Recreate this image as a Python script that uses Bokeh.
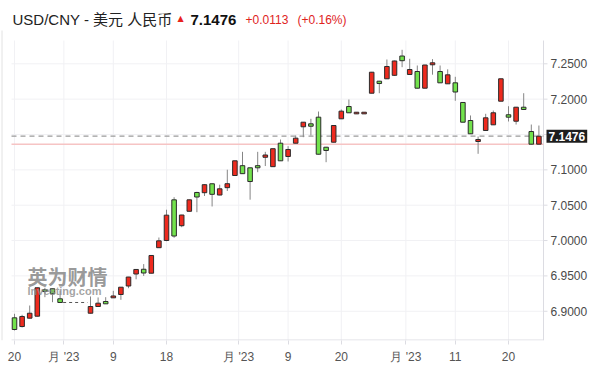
import numpy as np
from bokeh.plotting import figure
from bokeh.models import Range1d, FixedTicker, Label, ColumnDataSource
from bokeh.core.properties import value
from bokeh.embed import file_html
from bokeh.resources import INLINE

# ---------------- data ----------------
pair_name = "USD/CNY - 美元 人民币"
last_price = 7.1476
change = 0.0113
change_pct = 0.16

dates = ["2023-04-20", "2023-04-21", "2023-04-24", "2023-04-25", "2023-04-26", "2023-04-27", "2023-04-28",
         "2023-05-04", "2023-05-05", "2023-05-08", "2023-05-09", "2023-05-10", "2023-05-11", "2023-05-12",
         "2023-05-15", "2023-05-16", "2023-05-17", "2023-05-18", "2023-05-19",
         "2023-05-22", "2023-05-23", "2023-05-24", "2023-05-25", "2023-05-26",
         "2023-05-29", "2023-05-30", "2023-05-31", "2023-06-01", "2023-06-02",
         "2023-06-05", "2023-06-06", "2023-06-07", "2023-06-08", "2023-06-09",
         "2023-06-12", "2023-06-13", "2023-06-14", "2023-06-15", "2023-06-16",
         "2023-06-19", "2023-06-20", "2023-06-21", "2023-06-22", "2023-06-23",
         "2023-06-26", "2023-06-27", "2023-06-28", "2023-06-29", "2023-06-30",
         "2023-07-03", "2023-07-04", "2023-07-05", "2023-07-06", "2023-07-07",
         "2023-07-10", "2023-07-11", "2023-07-12", "2023-07-13", "2023-07-14",
         "2023-07-17", "2023-07-18", "2023-07-19", "2023-07-20", "2023-07-21",
         "2023-07-24", "2023-07-25", "2023-07-26"]

opens = [6.8907, 6.8784, 6.8902, 6.8930, 6.9303, 6.9318, 6.9176,
         6.8972, 6.9067, 6.9138, 6.9190, 6.9237, 6.9357, 6.9527,
         6.9594, 6.9538, 6.9899, 7.0001, 7.0576,
         7.0210, 7.0414, 7.0680, 7.0677, 7.0803,
         7.0644, 7.0748, 7.0920, 7.1059, 7.1029,
         7.1059, 7.1178, 7.1045, 7.1377, 7.1189,
         7.1377, 7.1609, 7.1651, 7.1745, 7.1320,
         7.1391, 7.1722, 7.1896, 7.1792, 7.1792,
         7.2084, 7.2254, 7.2288, 7.2337, 7.2610,
         7.2349, 7.2391, 7.2155, 7.2486, 7.2391,
         7.2217, 7.2231, 7.1953, 7.1698, 7.1401,
         7.1557, 7.1637, 7.1971, 7.1779, 7.1688,
         7.1886, 7.1542, 7.1363]

highs = [6.8964, 6.8950, 6.9081, 6.9335, 6.9332, 6.9320, 6.9294,
         6.9209, 6.9195, 6.9199, 6.9289, 6.9342, 6.9486, 6.9593,
         6.9667, 6.9792, 7.0043, 7.0436, 7.0613,
         7.0364, 7.0580, 7.0690, 7.0795, 7.0808,
         7.0790, 7.1002, 7.1130, 7.1255, 7.1032,
         7.1255, 7.1255, 7.1302, 7.1429, 7.1335,
         7.1486, 7.1676, 7.1722, 7.1825, 7.1325,
         7.1630, 7.1854, 7.1995, 7.1815, 7.1815,
         7.2385, 7.2258, 7.2561, 7.2545, 7.2698,
         7.2571, 7.2476, 7.2485, 7.2566, 7.2476,
         7.2422, 7.2316, 7.1958, 7.1769, 7.1472,
         7.1793, 7.1839, 7.2290, 7.1900, 7.1890,
         7.2084, 7.1641, 7.1627]

lows = [6.8728, 6.8770, 6.8898, 6.8925, 6.9199, 6.9128, 6.9120,
        6.8968, 6.9065, 6.9103, 6.9188, 6.9162, 6.9326, 6.9452,
        6.9499, 6.9535, 6.9895, 6.9991, 7.0039,
        7.0189, 7.0410, 7.0401, 7.0630, 7.0482,
        7.0640, 7.0701, 7.0918, 7.0944, 7.0578,
        7.0967, 7.1054, 7.1043, 7.1125, 7.1118,
        7.1375, 7.1462, 7.1486, 7.1218, 7.1108,
        7.1388, 7.1720, 7.1805, 7.1790, 7.1790,
        7.2082, 7.2084, 7.2285, 7.2330, 7.2452,
        7.2347, 7.2152, 7.2152, 7.2346, 7.2229,
        7.2215, 7.1977, 7.1670, 7.1508, 7.1227,
        7.1555, 7.1635, 7.1969, 7.1684, 7.1641,
        7.1852, 7.1357, 7.1360]

closes = [6.8742, 6.8926, 6.8972, 6.9332, 6.9279, 6.9247, 6.9124,
          6.9067, 6.9114, 6.9105, 6.9216, 6.9340, 6.9484, 6.9591,
          6.9541, 6.9789, 6.9996, 7.0359, 7.0064,
          7.0361, 7.0576, 7.0616, 7.0790, 7.0654,
          7.0732, 7.0804, 7.1128, 7.0946, 7.0835,
          7.1029, 7.1210, 7.1299, 7.1128, 7.1288,
          7.1448, 7.1674, 7.1617, 7.1221, 7.1274,
          7.1627, 7.1830, 7.1807, 7.1815, 7.1815,
          7.2381, 7.2221, 7.2462, 7.2540, 7.2544,
          7.2419, 7.2155, 7.2483, 7.2514, 7.2231,
          7.2344, 7.2101, 7.1674, 7.1510, 7.1429,
          7.1736, 7.1807, 7.2288, 7.1745, 7.1886,
          7.1854, 7.1363, 7.1476]

y_ticks = [6.90, 6.95, 7.00, 7.05, 7.10, 7.15, 7.20, 7.25]
tick_dates = ["2023-04-20", "2023-05-01", "2023-05-09", "2023-05-18", "2023-06-01",
              "2023-06-09", "2023-06-20", "2023-07-01", "2023-07-11", "2023-07-20"]
tick_labels = ["20", "月 '23", "9", "18", "月 '23", "9", "20", "月 '23", "11", "20"]

# ---------------- layout constants (pixels) ----------------
W, H = 600, 368
BOTTOM = 28                       # room for the date labels
FRAME_H = H - BOTTOM              # frame covers everything above the date labels
PX_X = 7.6                        # pixels per trading-day slot
PX_Y = 707.0                      # pixels per 1.0 of price
FIRST_X = 14                      # pixel of the first slot
Y_START = 6.85863                 # price at the bottom of the frame
X_START = -FIRST_X / PX_X
X_END = X_START + W / PX_X
Y_END = Y_START + FRAME_H / PX_Y


def sx(px):
    """canvas pixel -> slot value"""
    return X_START + px / PX_X


def sy(py):
    """canvas pixel (from top) -> price value"""
    return Y_START + (FRAME_H - py) / PX_Y


PLOT_L, PLOT_R, PLOT_T = sx(11), sx(543), sy(40)

# ---------------- derived ----------------
start = dates[0]
slots = [int(np.busday_count(start, d)) for d in dates]
up = [c >= o for o, c in zip(opens, closes)]
RED = "#ee2a1e"
GREEN = "#72e24c"
src = ColumnDataSource(dict(
    x=slots, top=[max(o, c) for o, c in zip(opens, closes)],
    bottom=[min(o, c) for o, c in zip(opens, closes)],
    high=highs, low=lows,
    color=[RED if u else GREEN for u in up]))

tick_pos = []
for d in tick_dates:
    n = float(np.busday_count(start, d))
    if d.endswith("-01"):
        n -= 0.5
    tick_pos.append(n)

prev_close = round(last_price - change, 4)

p = figure(width=W, height=H, x_range=Range1d(X_START, X_END), y_range=Range1d(Y_START, Y_END),
           min_border_left=0, min_border_right=0, min_border_top=0, min_border_bottom=BOTTOM,
           toolbar_location=None, output_backend="svg", tools="")
p.outline_line_color = None
p.background_fill_color = "white"
p.border_fill_color = "white"
p.grid.visible = False
p.yaxis.visible = False

GRID = "#f1f1f4"
AXIS = "#dcdce2"

# panel border on the far left
p.segment(x0=[sx(1.5)], y0=[sy(30)], x1=[sx(1.5)], y1=[Y_START], line_color="#e2e2e2", line_width=1)

# grid lines
p.segment(x0=tick_pos, y0=[Y_START] * len(tick_pos), x1=tick_pos, y1=[PLOT_T] * len(tick_pos),
          line_color=GRID, line_width=1)
p.segment(x0=[PLOT_L] * len(y_ticks), y0=y_ticks, x1=[PLOT_R] * len(y_ticks), y1=y_ticks,
          line_color=GRID, line_width=1)

# x axis (labels + ticks from bokeh, line drawn to stop at the price axis)
xa = p.xaxis[0]
xa.ticker = FixedTicker(ticks=tick_pos)
xa.major_label_overrides = {t: l for t, l in zip(tick_pos, tick_labels)}
xa.axis_line_color = None
xa.major_tick_line_color = AXIS
xa.major_tick_out = 4
xa.major_tick_in = 0
xa.minor_tick_line_color = None
xa.major_label_text_font = "Liberation Sans"
xa.major_label_text_font_size = "12px"
xa.major_label_text_color = "#555555"
xa.major_label_standoff = 5
p.segment(x0=[PLOT_L], y0=[sy(339.5)], x1=[PLOT_R], y1=[sy(339.5)], line_color=AXIS, line_width=1)

# price axis on the right
p.segment(x0=[PLOT_R], y0=[Y_START], x1=[PLOT_R], y1=[PLOT_T], line_color=AXIS, line_width=1)
p.segment(x0=[PLOT_R] * len(y_ticks), y0=y_ticks, x1=[sx(547)] * len(y_ticks), y1=y_ticks,
          line_color=AXIS, line_width=1)
p.text(x=[sx(550)] * len(y_ticks), y=y_ticks, text=[f"{v:.4f}" for v in y_ticks],
       text_font=value("Liberation Sans"), text_font_size=value("12px"),
       text_color="#4a4a4a", text_baseline="middle", text_align="left")

# reference lines: previous close and last price
p.segment(x0=[PLOT_L], y0=[prev_close], x1=[PLOT_R], y1=[prev_close],
          line_color="#f6c4c4", line_width=1.5)
p.segment(x0=[PLOT_L], y0=[last_price], x1=[PLOT_R], y1=[last_price],
          line_color="#9a9a9a", line_width=1.2, line_dash="5 4")

# watermark
p.add_layout(Label(x=27, y=FRAME_H - 276, x_units="screen", y_units="screen", text="英为财情",
                   text_font="Noto Sans CJK SC", text_font_style="bold", text_font_size="20px",
                   text_color="#7e7e7e", text_alpha=0.8, text_baseline="alphabetic"))
p.add_layout(Label(x=27, y=FRAME_H - 290, x_units="screen", y_units="screen", text="Investing.com",
                   text_font="Liberation Sans", text_font_style="bold", text_font_size="11px",
                   text_color="#8c8c8c", text_alpha=0.8, text_baseline="alphabetic"))

# holiday gap dashed connector
gx0, gx1, gy = [], [], []
for i in range(1, len(slots)):
    if slots[i] - slots[i - 1] > 1:
        gx0.append(slots[i - 1] + 0.4)
        gx1.append(slots[i] - 0.4)
        gy.append(closes[i - 1])
p.segment(x0=gx0, y0=gy, x1=gx1, y1=gy, line_color="#555555", line_width=1, line_dash="3 3")

# candles
p.segment(x0="x", y0="low", x1="x", y1="high", source=src, line_color="#858585", line_width=1)
p.vbar(x="x", width=0.6, top="top", bottom="bottom", source=src,
       fill_color="color", line_color="#2b2b2b", line_width=1)

# current price tag on the axis
p.add_layout(Label(x=546, y=last_price, x_units="screen", y_units="data",
                   text=f"{last_price:.4f}", text_font="Liberation Sans", text_font_style="bold",
                   text_font_size="12px", text_color="white", text_baseline="middle",
                   background_fill_color="#1e1e1e", padding=2))

# header
hy = FRAME_H - 19
p.add_layout(Label(x=12, y=hy, x_units="screen", y_units="screen", text=pair_name,
                   text_font="Liberation Sans, Noto Sans CJK SC", text_font_size="15px",
                   text_color="#222222", text_baseline="alphabetic"))
p.add_layout(Label(x=177, y=hy + 1, x_units="screen", y_units="screen", text="▲",
                   text_font="DejaVu Sans", text_font_size="8px", text_color="#e8221c",
                   text_baseline="alphabetic"))
p.add_layout(Label(x=190, y=hy, x_units="screen", y_units="screen", text=f"{last_price:.4f}",
                   text_font="Liberation Sans", text_font_style="bold", text_font_size="15px",
                   text_color="#111111", text_baseline="alphabetic"))
p.add_layout(Label(x=245, y=hy, x_units="screen", y_units="screen", text=f"+{change:.4f}",
                   text_font="Liberation Sans", text_font_size="12px", text_color="#e0231d",
                   text_baseline="alphabetic"))
p.add_layout(Label(x=297, y=hy, x_units="screen", y_units="screen", text=f"(+{change_pct:.2f}%)",
                   text_font="Liberation Sans", text_font_size="12px", text_color="#e0231d",
                   text_baseline="alphabetic"))

open("out.html", "w").write(file_html(p, INLINE))
